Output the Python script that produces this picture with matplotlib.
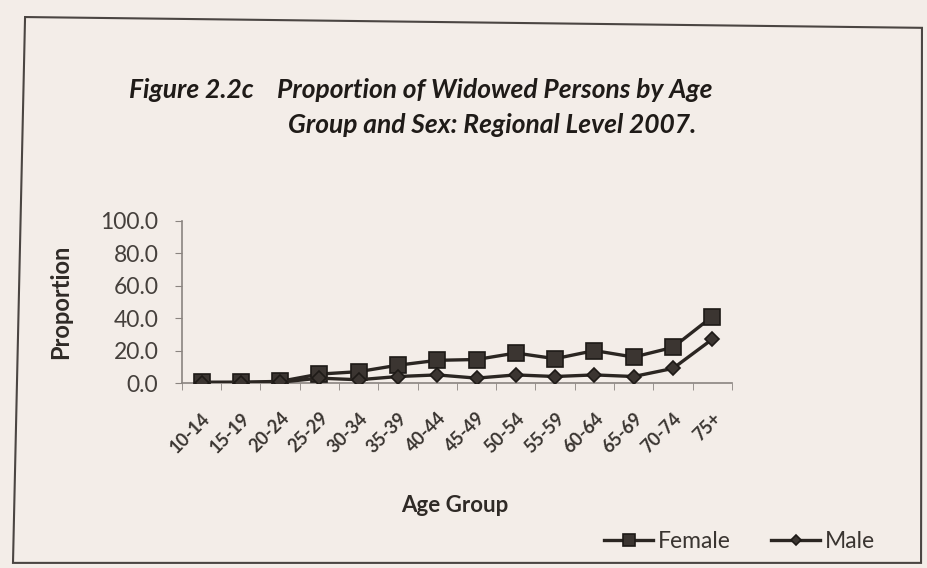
import matplotlib
matplotlib.use('Agg')
import matplotlib.pyplot as plt
from matplotlib.patches import Polygon

plt.rcParams['font.family'] = ['Lato', 'DejaVu Sans']

# Data
age_groups = ['10-14', '15-19', '20-24', '25-29', '30-34', '35-39', '40-44',
              '45-49', '50-54', '55-59', '60-64', '65-69', '70-74', '75+']
female = [0.5, 0.5, 1.0, 5.5, 7.0, 11.0, 14.0, 14.5, 18.5, 15.0, 20.0, 16.0, 22.0, 41.0]
male = [0.2, 0.3, 0.5, 3.0, 2.0, 4.0, 5.0, 3.0, 5.0, 4.0, 5.0, 4.0, 9.0, 27.0]
y_ticks = [0, 20, 40, 60, 80, 100]

bg = '#f3ede8'
ink = '#2b2622'
txt = '#3a3531'

fig = plt.figure(figsize=(9.28, 5.68), dpi=100, facecolor=bg)
ax = fig.add_axes([0.196, 0.3257, 0.5927, 0.2853], facecolor=bg)

x = list(range(len(age_groups)))
ax.plot(x, female, color=ink, lw=2.4, marker='s', ms=11.5,
        mfc='#3b3531', mec='#1e1a17', mew=1.2, label='Female', zorder=3)
ax.plot(x, male, color=ink, lw=2.4, marker='D', ms=7,
        mfc='#3b3531', mec='#1e1a17', mew=1.2, label='Male', zorder=3)

ax.set_xlim(-0.5, len(age_groups) - 0.5)
ax.set_ylim(0, 100)
ax.set_yticks(y_ticks)
ax.set_yticklabels(['%.1f' % v for v in y_ticks])
ax.set_xticks(x)
ax.set_xticklabels(age_groups, rotation=45, ha='right', va='top',
                   rotation_mode='anchor', fontsize=13, fontweight='bold',
                   color=txt)
ax.set_xticks([i - 0.5 for i in range(len(age_groups) + 1)], minor=True)
ax.tick_params(axis='x', which='major', length=0, pad=19)
ax.tick_params(axis='x', which='minor', length=5, color='#8a8480', direction='out')
ax.tick_params(axis='y', length=5, color='#8a8480', pad=12,
               labelsize=16.5, labelcolor='#45403c')

for s in ['top', 'right']:
    ax.spines[s].set_visible(False)
for s in ['left', 'bottom']:
    ax.spines[s].set_color('#8a8480')
    ax.spines[s].set_linewidth(1.2)

ax.set_ylabel('Proportion', fontsize=17, fontweight='bold', color='#2f2a26')
ax.yaxis.set_label_coords(-0.2, 0.5)
ax.set_xlabel('Age Group', fontsize=16, fontweight='bold', color='#2f2a26')
ax.xaxis.set_label_coords(0.496, -0.69)

# Title
title_kw = dict(fontsize=19, fontweight='bold', fontstyle='italic',
                color='#1f1b18', va='baseline')
fig.text(0.139, 0.8275, 'Figure 2.2c', **title_kw)
fig.text(0.2985, 0.8275, 'Proportion of Widowed Persons by Age', **title_kw)
fig.text(0.310, 0.766, 'Group and Sex: Regional Level 2007.', **title_kw)

fig.legend(loc='center', bbox_to_anchor=(0.797, 0.046), ncol=2, frameon=False,
           fontsize=16.5, handlelength=2.15, handletextpad=0.2, columnspacing=1.75,
           labelcolor=txt, markerscale=0.8)

# slightly skewed frame of the photographed figure box
fig.patches.append(Polygon([(0.027, 0.970), (0.9935, 0.951), (0.9925, 0.009),
                            (0.014, 0.009)], closed=True, transform=fig.transFigure,
                           fill=False, edgecolor='#4a4542', lw=1.5))

fig.savefig('out.png', dpi=100, facecolor=bg)
